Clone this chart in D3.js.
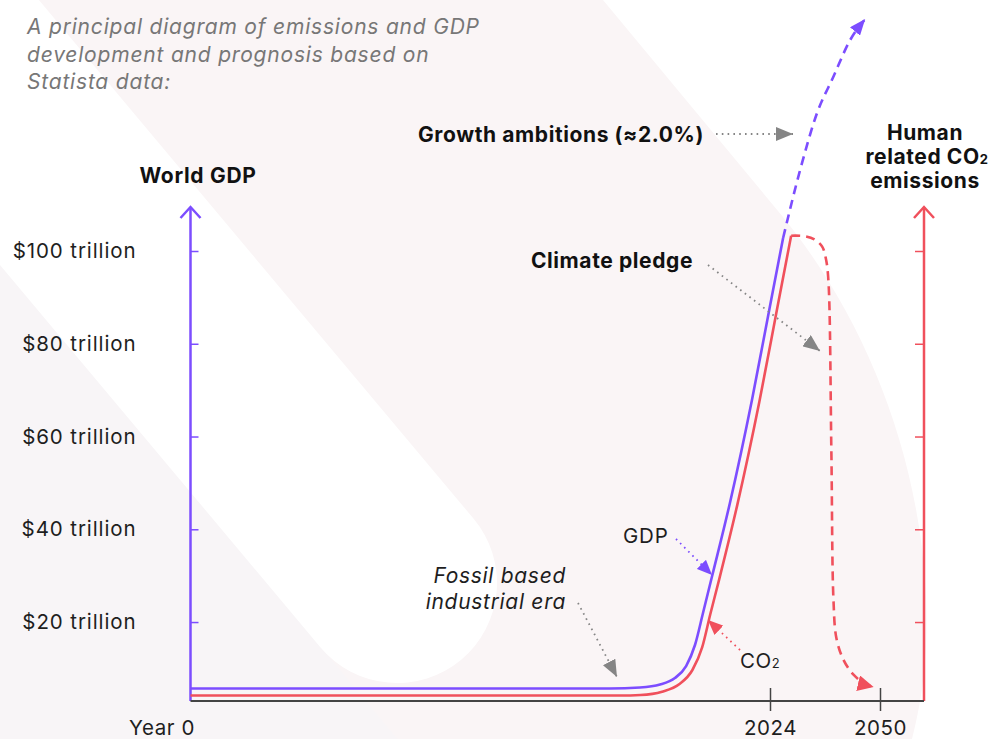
<!DOCTYPE html>
<html><head><meta charset="utf-8">
<script src="https://cdn.jsdelivr.net/npm/d3@7"></script>
<style>
html,body{margin:0;padding:0;background:#fff;}
svg{display:block;font-family:Inter,"Noto Sans",sans-serif;}
</style></head><body>
<svg id="chart" width="990" height="739"></svg>
<script>
// ---------------- data ----------------
const titleLines = ["A principal diagram of emissions and GDP", "development and prognosis based on", "Statista data:"];
const yTickValues = [20, 40, 60, 80, 100];           // $ trillion
const xTickValues = [0, 2024, 2050];
const xTickLabels = ["Year 0", "2024", "2050"];

// historic World GDP ($ trillion, schematic)
const gdpYears  = [0, 1465, 1570, 1640, 1692, 1731, 1762, 1790, 1821, 1884, 1961, 2024, 2027.1];
const gdpValues = [5.67, 5.67, 5.89, 6.53, 7.93, 10.52, 15.05, 21.95, 29.71, 45.67, 67.88, 88.15, 102.81];
// growth ambition projection (~2.0 %)
const growthYears  = [2027.1, 2031.1, 2035.1, 2038.9, 2042.9, 2046.5];
const growthValues = [102.81, 117.4, 129.7, 137.4, 145.4, 150.0];
// historic CO2 emissions (same schematic scale)
const co2Years  = [0, 1500, 1572, 1647, 1708, 1753, 1787, 1815, 1847, 1910, 1987, 2025.75, 2029.0];
const co2Values = [4.16, 4.16, 4.27, 4.98, 6.64, 9.66, 14.53, 21.56, 29.32, 45.32, 67.55, 87.86, 103.3];
// climate pledge path
const pledgeYears  = [2029.0, 2032.2, 2034.5, 2036.3, 2037.2, 2037.8, 2038.5, 2039.0, 2039.7, 2041.4, 2043.8, 2046.6, 2048.5];
const pledgeValues = [103.3, 103.2, 102.5, 101.0, 98.4, 93.7, 57.1, 24.8, 16.5, 11.8, 8.6, 6.6, 6.0];

// ---------------- setup ----------------
const W = 990, H = 739;
const purple = "#7c4dff", red = "#f0505c", axisGrey = "#444", annGrey = "#858585";
const FONT = "Inter,'Noto Sans',sans-serif";
const svg = d3.select("#chart");

const x = d3.scaleLinear().domain([0, 2024, 2050]).range([190.5, 770, 880]);
const y = d3.scaleLinear().domain([0, 100]).range([714.8, 251]);
const xLeft = 190.5, xRight = 924, baseY = 701, axisTop = 207;

// ---------------- background ----------------
const bg = svg.append("g");
bg.append("rect").attr("width", W).attr("height", H).attr("fill", "#faf5f6");
bg.append("path").attr("d", "M0,262 L700,1102 L0,1102 Z").attr("fill", "#f8f5f7");
bg.append("line").attr("x1", -260).attr("y1", -201).attr("x2", 397).attr("y2", 583)
  .attr("stroke", "#fff").attr("stroke-width", 200).attr("stroke-linecap", "round");
bg.append("path").attr("d", "M603,0 L783,217 C860,312 915,440 925,580 C930,650 922,700 912,739 L990,739 L990,0 Z")
  .attr("fill", "#fff");

// ---------------- markers ----------------
const defs = svg.append("defs");
function marker(id, color, len, wid) {
  defs.append("marker").attr("id", id).attr("markerUnits", "userSpaceOnUse")
    .attr("markerWidth", len).attr("markerHeight", wid).attr("refX", len).attr("refY", wid / 2)
    .attr("orient", "auto").attr("viewBox", `0 0 ${len} ${wid}`)
    .append("path").attr("d", `M0,0 L${len},${wid / 2} L0,${wid} Z`).attr("fill", color);
}
marker("mGrey", annGrey, 17, 14);
marker("mPurple", purple, 15, 13);
marker("mRed", red, 15, 13);
marker("mPurpleBig", purple, 16, 13);
marker("mRedBig", red, 16, 16);

// ---------------- title ----------------
svg.append("g").selectAll("text").data(titleLines).join("text")
  .attr("x", 27).attr("y", (d, i) => 34 + i * 27.5)
  .attr("font-size", 21).attr("font-style", "italic").attr("letter-spacing", 0.8)
  .attr("fill", "#777").text(d => d);

// ---------------- axes ----------------
const gL = svg.append("g").attr("transform", `translate(${xLeft},0)`);
gL.call(d3.axisRight(y).tickValues(yTickValues).tickSize(8).tickFormat(""))
  .call(g => g.select(".domain").remove())
  .call(g => g.selectAll(".tick line").attr("stroke", purple).attr("stroke-width", 1.5));
const gLab = svg.append("g").attr("transform", `translate(${xLeft},0)`);
gLab.call(d3.axisLeft(y).tickValues(yTickValues).tickSize(0).tickPadding(54).tickFormat(d => `$${d} trillion`))
  .call(g => g.select(".domain").remove())
  .call(g => g.selectAll(".tick text").attr("font-size", 20.5).attr("fill", "#1e1e1e")
      .attr("letter-spacing", 0.9).attr("font-family", FONT));
svg.append("line").attr("x1", xLeft).attr("x2", xLeft).attr("y1", baseY).attr("y2", axisTop)
  .attr("stroke", purple).attr("stroke-width", 2.5);
svg.append("path").attr("d", `M${xLeft - 10},${axisTop + 11} L${xLeft},${axisTop} L${xLeft + 10},${axisTop + 11}`)
  .attr("fill", "none").attr("stroke", purple).attr("stroke-width", 2.5);

const gR = svg.append("g").attr("transform", `translate(${xRight},0)`);
gR.call(d3.axisLeft(y).tickValues(yTickValues).tickSize(9).tickFormat(""))
  .call(g => g.select(".domain").remove())
  .call(g => g.selectAll(".tick line").attr("stroke", red).attr("stroke-width", 1.5));
svg.append("line").attr("x1", xRight).attr("x2", xRight).attr("y1", baseY).attr("y2", axisTop)
  .attr("stroke", red).attr("stroke-width", 2.5);
svg.append("path").attr("d", `M${xRight - 10},${axisTop + 11} L${xRight},${axisTop} L${xRight + 10},${axisTop + 11}`)
  .attr("fill", "none").attr("stroke", red).attr("stroke-width", 2.5);

svg.append("line").attr("x1", xLeft).attr("x2", xRight).attr("y1", baseY).attr("y2", baseY)
  .attr("stroke", axisGrey).attr("stroke-width", 2);
const gX = svg.append("g").attr("transform", `translate(0,${baseY})`);
gX.call(d3.axisBottom(x).tickValues(xTickValues).tickSize(10).tickPadding(22)
    .tickFormat((d, i) => xTickLabels[i]))
  .call(g => g.select(".domain").remove())
  .call(g => g.selectAll(".tick line").attr("stroke", axisGrey).attr("stroke-width", 1.5).attr("y1", -13)
      .attr("display", d => d === 0 ? "none" : null))
  .call(g => g.selectAll(".tick text").attr("font-size", 20.5).attr("fill", "#1e1e1e")
      .attr("font-family", FONT).attr("letter-spacing", 0.6)
      .attr("dy", 0).attr("y", 33.5)
      .attr("x", d => d === 0 ? -29 : 0));

// axis titles
svg.append("text").attr("x", 198).attr("y", 183).attr("text-anchor", "middle")
  .attr("font-size", 21).attr("font-weight", 700).attr("letter-spacing", 0.7)
  .attr("fill", "#111").text("World GDP");
const hr = svg.append("text").attr("text-anchor", "middle").attr("font-size", 21).attr("font-weight", 700)
  .attr("letter-spacing", 0.6).attr("fill", "#111");
hr.append("tspan").attr("x", 925).attr("y", 140).text("Human");
const l2 = hr.append("tspan").attr("x", 927).attr("y", 164);
l2.append("tspan").text("related CO");
l2.append("tspan").attr("font-size", 13).text("2");
hr.append("tspan").attr("x", 925).attr("y", 188).text("emissions");

// ---------------- series ----------------
const zipD = (xs, vs) => xs.map((t, i) => ({ t, v: vs[i] }));
const lineM = d3.line().x(d => x(d.t)).y(d => y(d.v)).curve(d3.curveMonotoneX);
const lineC = d3.line().x(d => x(d.t)).y(d => y(d.v)).curve(d3.curveCatmullRom.alpha(0.5));

svg.append("path").attr("d", lineM(zipD(co2Years, co2Values)))
  .attr("fill", "none").attr("stroke", red).attr("stroke-width", 2.6);
svg.append("path").attr("d", lineM(zipD(gdpYears, gdpValues)))
  .attr("fill", "none").attr("stroke", purple).attr("stroke-width", 2.6);
svg.append("path").attr("d", lineM(zipD(growthYears, growthValues)))
  .attr("fill", "none").attr("stroke", purple).attr("stroke-width", 2.6)
  .attr("stroke-dasharray", "9 6").attr("marker-end", "url(#mPurpleBig)");
svg.append("path").attr("d", lineC(zipD(pledgeYears, pledgeValues)))
  .attr("fill", "none").attr("stroke", red).attr("stroke-width", 2.6)
  .attr("stroke-dasharray", "9 6").attr("marker-end", "url(#mRedBig)");

// ---------------- annotations ----------------
const ann = svg.append("g");
function dotted(x1, y1, x2, y2, color, mk) {
  ann.append("line").attr("x1", x1).attr("y1", y1).attr("x2", x2).attr("y2", y2)
    .attr("stroke", color).attr("stroke-width", 1.8).attr("stroke-dasharray", "1.6 4.2")
    .attr("marker-end", `url(#${mk})`);
}
ann.append("text").attr("x", 704).attr("y", 142).attr("text-anchor", "end")
  .attr("font-size", 21).attr("font-weight", 700).attr("letter-spacing", 0.6)
  .attr("fill", "#111").text("Growth ambitions (≈2.0%)");
dotted(716, 134, 793, 134, annGrey, "mGrey");

ann.append("text").attr("x", 693).attr("y", 268).attr("text-anchor", "end")
  .attr("font-size", 21).attr("font-weight", 700).attr("letter-spacing", 0.6)
  .attr("fill", "#111").text("Climate pledge");
dotted(708, 265, 820, 351, annGrey, "mGrey");

const fos = ann.append("text").attr("text-anchor", "end").attr("font-size", 21)
  .attr("font-style", "italic").attr("letter-spacing", 0.7).attr("fill", "#1e1e1e");
fos.append("tspan").attr("x", 566).attr("y", 583).text("Fossil based");
fos.append("tspan").attr("x", 566).attr("y", 609).text("industrial era");
dotted(578, 603, 617, 677, annGrey, "mGrey");

ann.append("text").attr("x", 623).attr("y", 543).attr("font-size", 20.5).attr("letter-spacing", 0.8)
  .attr("fill", "#1e1e1e").text("GDP");
dotted(676, 539, 712, 575, purple, "mPurple");

const co2t = ann.append("text").attr("x", 740).attr("y", 668).attr("font-size", 20.5)
  .attr("letter-spacing", 0.6).attr("fill", "#1e1e1e");
co2t.append("tspan").text("CO");
co2t.append("tspan").attr("font-size", 13).text("2");
dotted(740, 650, 708, 620, red, "mRed");
</script>
</body></html>
